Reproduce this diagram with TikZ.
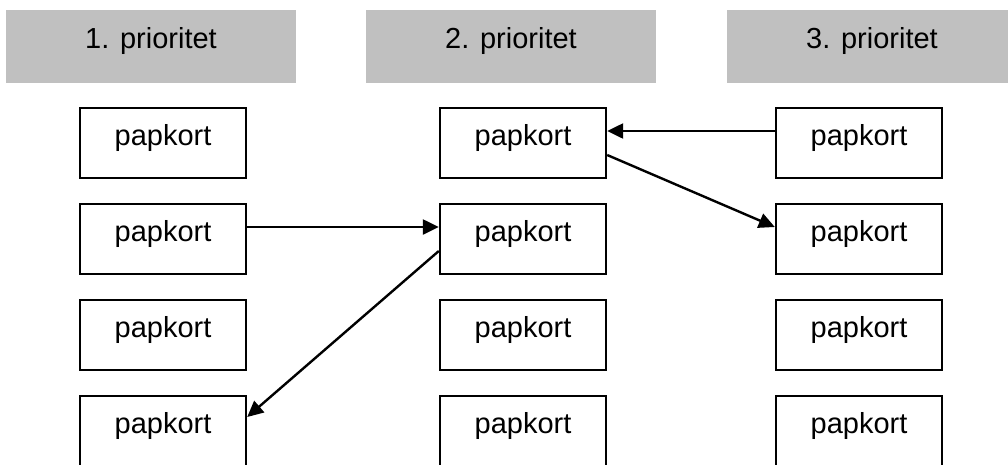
\documentclass[tikz,border=0pt]{standalone}
\usepackage{fontspec}
\setmainfont{Liberation Sans}
\usetikzlibrary{arrows.meta}
\definecolor{hdrgrey}{HTML}{C0C0C0}
\begin{document}
\begin{tikzpicture}[x=1pt,y=-1pt,
  hdr/.style={fill=hdrgrey,draw=none,minimum width=290pt,minimum height=73pt,inner sep=0pt,
    font=\fontsize{29}{34}\selectfont,text height=20pt,text depth=17pt},
  card/.style={draw=black,line width=2.4pt,fill=white,minimum width=166pt,minimum height=70pt,inner sep=0pt,
    font=\fontsize{29}{34}\selectfont,text height=20pt,text depth=16pt},
  arr/.style={line width=2.4pt,-{Triangle[length=16pt,width=15pt]}}]
\useasboundingbox (0,0) rectangle (1008,464);
\node[hdr] (h1) at (151,46.5) {1. prioritet};
\node[hdr] (h2) at (511,46.5) {2. prioritet};
\node[hdr] (h3) at (872,46.5) {3. prioritet};
\foreach \c/\x in {1/163,2/523,3/859}{
  \foreach \r/\y in {1/143,2/239,3/335,4/431}{
    \node[card] (c\c r\r) at (\x,\y) {papkort};
  }
}
\draw[arr] ([yshift=12pt]c1r2.east) -- ([yshift=12pt]c2r2.west);
\draw[arr] ([yshift=12pt]c3r1.west) -- ([yshift=12pt]c2r1.east);
\draw[arr] ([yshift=-12pt]c2r1.east) -- ([yshift=12pt]c3r2.west);
\draw[arr] ([yshift=-12pt]c2r2.west) -- ([yshift=14pt]c1r4.east);
\end{tikzpicture}
\end{document}
